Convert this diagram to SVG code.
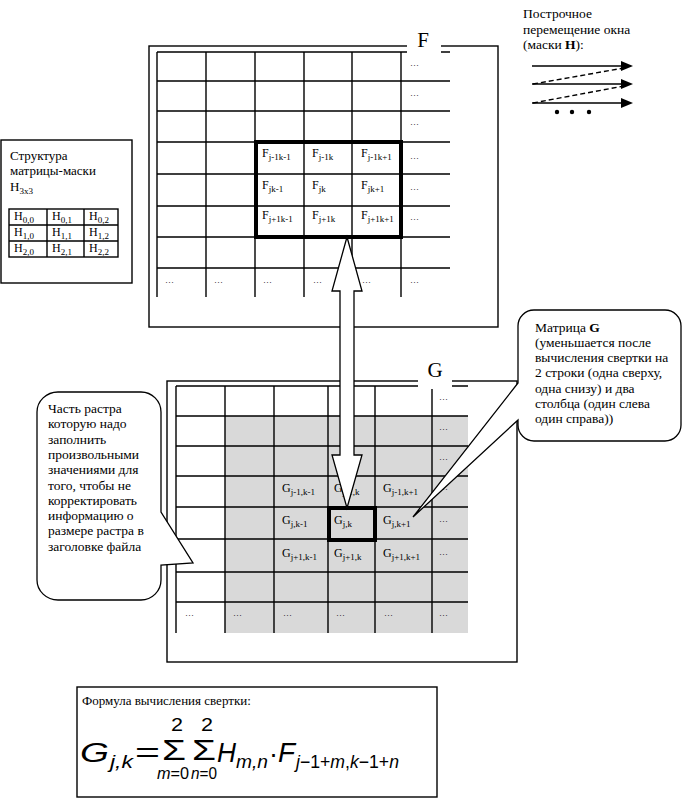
<svg xmlns="http://www.w3.org/2000/svg" width="688" height="801" viewBox="0 0 688 801">
<defs>
<style>
.t{font-family:"Liberation Serif","Times New Roman",serif;font-size:13.5px;fill:#000}
.h{font-family:"Liberation Serif","Times New Roman",serif;font-size:13px;fill:#000}
.c{font-family:"Liberation Serif","Times New Roman",serif;font-size:12px;fill:#000}
.s{font-size:9px}
.d{font-family:"Liberation Serif","Times New Roman",serif;font-size:9px;fill:#000}
.lbl{font-family:"Liberation Serif","Times New Roman",serif;font-size:21px;fill:#000;text-anchor:middle}
.ln{stroke:#000;stroke-width:1.4;fill:none}
.fr{fill:#fff;stroke:#000;stroke-width:1.4}
.tk{fill:none;stroke:#000;stroke-width:4}
.co{fill:#fff;stroke:#000;stroke-width:1.3}
.fm{font-family:"Liberation Sans",Arial,sans-serif;fill:#000}
.i{font-style:italic}
</style>
<marker id="ah" markerUnits="userSpaceOnUse" markerWidth="12" markerHeight="10" refX="0" refY="5" orient="auto">
<path d="M0,0 L12,5 L0,10 Z" fill="#000"/>
</marker>
</defs>
<rect width="688" height="801" fill="#fff"/>

<g id="matrixF">
<rect class="fr" x="149" y="46" width="349" height="281"/>
<path class="ln" d="M157,52V297M206,52V297M255,52V297M304,52V297M352,52V297M401,52V297M157,52H450M157,81H450M157,111H450M157,142H450M157,174H450M157,206H450M157,237H450M157,268H450"/>
<rect class="tk" x="256" y="142" width="145" height="95"/>
<rect x="407" y="36" width="34" height="19" fill="#fff"/>
<text class="lbl" x="423" y="47">F</text>
<text class="c" x="262" y="157">F<tspan class="s" dy="3">j-1k-1</tspan></text>
<text class="c" x="312" y="157">F<tspan class="s" dy="3">j-1k</tspan></text>
<text class="c" x="361" y="157">F<tspan class="s" dy="3">j-1k+1</tspan></text>
<text class="c" x="262" y="189">F<tspan class="s" dy="3">jk-1</tspan></text>
<text class="c" x="312" y="189">F<tspan class="s" dy="3">jk</tspan></text>
<text class="c" x="361" y="189">F<tspan class="s" dy="3">jk+1</tspan></text>
<text class="c" x="262" y="219">F<tspan class="s" dy="3">j+1k-1</tspan></text>
<text class="c" x="312" y="219">F<tspan class="s" dy="3">j+1k</tspan></text>
<text class="c" x="361" y="219">F<tspan class="s" dy="3">j+1k+1</tspan></text>
<text class="d" x="410" y="66">…</text>
<text class="d" x="410" y="96">…</text>
<text class="d" x="410" y="125">…</text>
<text class="d" x="410" y="159">…</text>
<text class="d" x="410" y="190">…</text>
<text class="d" x="410" y="220">…</text>
<text class="d" x="165" y="283">…</text>
<text class="d" x="214" y="283">…</text>
<text class="d" x="263" y="283">…</text>
<text class="d" x="313" y="283">…</text>
<text class="d" x="362" y="283">…</text>
<text class="d" x="410" y="283">…</text>
</g>

<g id="matrixG">
<rect class="fr" x="167" y="381" width="350" height="281"/>
<rect x="225" y="416" width="243" height="217" fill="#d9d9d9"/>
<path class="ln" d="M176,386V633M225,386V633M274,386V633M328,386V633M375,386V633M432,386V633M176,386H468M176,416H468M176,446H468M176,476H468M176,507H468M176,539H468M176,572H468M176,602H468"/>
<rect class="tk" x="329" y="508" width="46" height="32"/>
<rect x="418" y="364" width="34" height="25" fill="#fff"/>
<text class="lbl" x="435" y="377">G</text>
<text class="c" x="282" y="492">G<tspan class="s" dy="3">j-1,k-1</tspan></text>
<text class="c" x="334" y="492">G<tspan class="s" dy="3">j-1,k</tspan></text>
<text class="c" x="383" y="492">G<tspan class="s" dy="3">j-1,k+1</tspan></text>
<text class="c" x="282" y="524">G<tspan class="s" dy="3">j,k-1</tspan></text>
<text class="c" x="334" y="524">G<tspan class="s" dy="3">j,k</tspan></text>
<text class="c" x="383" y="524">G<tspan class="s" dy="3">j,k+1</tspan></text>
<text class="c" x="282" y="557">G<tspan class="s" dy="3">j+1,k-1</tspan></text>
<text class="c" x="334" y="557">G<tspan class="s" dy="3">j+1,k</tspan></text>
<text class="c" x="383" y="557">G<tspan class="s" dy="3">j+1,k+1</tspan></text>
<text class="d" x="439" y="400">…</text>
<text class="d" x="439" y="430">…</text>
<text class="d" x="439" y="460">…</text>
<text class="d" x="439" y="490">…</text>
<text class="d" x="439" y="522">…</text>
<text class="d" x="439" y="555">…</text>
<text class="d" x="185" y="616">…</text>
<text class="d" x="233" y="616">…</text>
<text class="d" x="283" y="616">…</text>
<text class="d" x="336" y="616">…</text>
<text class="d" x="384" y="616">…</text>
<text class="d" x="439" y="616">…</text>
</g>

<g id="maskH">
<rect class="fr" x="1" y="140" width="131" height="143"/>
<text class="h" x="10" y="160">Структура</text>
<text class="h" x="10" y="175">матрицы-маски</text>
<text class="h" x="10" y="191">H<tspan class="s" dy="3">3x3</tspan></text>
<rect class="fr" x="9" y="209" width="109" height="48"/>
<path class="ln" d="M9,225H118M9,241H118M47,209V257M84,209V257"/>
<text class="c" x="14" y="220">H<tspan class="s" dy="3">0,0</tspan></text>
<text class="c" x="52" y="220">H<tspan class="s" dy="3">0,1</tspan></text>
<text class="c" x="89" y="220">H<tspan class="s" dy="3">0,2</tspan></text>
<text class="c" x="14" y="236">H<tspan class="s" dy="3">1,0</tspan></text>
<text class="c" x="52" y="236">H<tspan class="s" dy="3">1,1</tspan></text>
<text class="c" x="89" y="236">H<tspan class="s" dy="3">1,2</tspan></text>
<text class="c" x="14" y="252">H<tspan class="s" dy="3">2,0</tspan></text>
<text class="c" x="52" y="252">H<tspan class="s" dy="3">2,1</tspan></text>
<text class="c" x="89" y="252">H<tspan class="s" dy="3">2,2</tspan></text>
</g>

<g id="legend">
<text class="t" x="523" y="18">Построчное</text>
<text class="t" x="523" y="33.5">перемещение окна</text>
<text class="t" x="523" y="49">(маски <tspan font-weight="bold">H</tspan>):</text>
<line class="ln" x1="532" y1="66" x2="621" y2="66" marker-end="url(#ah)"/>
<line class="ln" x1="532" y1="84" x2="621" y2="84" marker-end="url(#ah)"/>
<line class="ln" x1="532" y1="103" x2="621" y2="103" marker-end="url(#ah)"/>
<path class="ln" stroke-dasharray="5,3" d="M533,84L624,68M533,103L624,86"/>
<circle cx="557" cy="112" r="2.2"/>
<circle cx="572" cy="112" r="2.2"/>
<circle cx="589" cy="112" r="2.2"/>
</g>

<g id="calloutLeft">
<path class="co" d="M58,392H141A20,20 0 0 1 161,412V512L193,563L161,565V580A20,20 0 0 1 141,600H58A21,20 0 0 1 37,580V412A21,20 0 0 1 58,392Z"/>
<text class="t" x="48" y="413">Часть растра</text>
<text class="t" x="48" y="428">которую надо</text>
<text class="t" x="48" y="444">заполнить</text>
<text class="t" x="48" y="459">произвольными</text>
<text class="t" x="48" y="474">значениями для</text>
<text class="t" x="48" y="490">того, чтобы не</text>
<text class="t" x="48" y="505">корректировать</text>
<text class="t" x="48" y="520">информацию о</text>
<text class="t" x="48" y="535">размере растра в</text>
<text class="t" x="48" y="551">заголовке файла</text>
</g>

<g id="calloutRight">
<path class="co" d="M534,310H665A16,16 0 0 1 681,326V425A16,16 0 0 1 665,441H534A16,16 0 0 1 518,425V420L413,517L518,383V326A16,16 0 0 1 534,310Z"/>
<text class="t" x="535" y="332">Матрица <tspan font-weight="bold">G</tspan></text>
<text class="t" x="535" y="347">(уменьшается после</text>
<text class="t" x="535" y="362">вычисления свертки на</text>
<text class="t" x="535" y="377">2 строки (одна сверху,</text>
<text class="t" x="535" y="393">одна снизу) и два</text>
<text class="t" x="535" y="408">столбца (один слева</text>
<text class="t" x="535" y="423">один справа))</text>
</g>

<g id="connectors">
<path class="co" d="M347,237L362,291H354V455H362L347,508L332,455H340V291H332Z"/>
</g>

<g id="formula">
<rect class="fr" x="77" y="687" width="360" height="110"/>
<text class="h" x="82" y="705">Формула вычисления свертки:</text>
<text class="fm i" x="80" y="762" font-size="27" textLength="29" lengthAdjust="spacingAndGlyphs">G</text>
<text class="fm i" x="110" y="768" font-size="18" textLength="23" lengthAdjust="spacingAndGlyphs">j,k</text>
<text class="fm" x="135" y="762" font-size="27" textLength="25" lengthAdjust="spacingAndGlyphs">=</text>
<text class="fm" x="162" y="760" font-size="29" textLength="24" lengthAdjust="spacingAndGlyphs">Σ</text>
<text class="fm" x="171" y="731" font-size="19" textLength="12" lengthAdjust="spacingAndGlyphs">2</text>
<text class="fm" x="157" y="779" font-size="16" textLength="32" lengthAdjust="spacingAndGlyphs"><tspan class="i">m</tspan>=0</text>
<text class="fm" x="192" y="760" font-size="29" textLength="24" lengthAdjust="spacingAndGlyphs">Σ</text>
<text class="fm" x="201" y="731" font-size="19" textLength="12" lengthAdjust="spacingAndGlyphs">2</text>
<text class="fm" x="191" y="779" font-size="16" textLength="26" lengthAdjust="spacingAndGlyphs"><tspan class="i">n</tspan>=0</text>
<text class="fm i" x="217" y="762" font-size="27" textLength="19" lengthAdjust="spacingAndGlyphs">H</text>
<text class="fm i" x="236" y="768" font-size="18" textLength="32" lengthAdjust="spacingAndGlyphs">m,n</text>
<text class="fm" x="269" y="763" font-size="27" textLength="9" lengthAdjust="spacingAndGlyphs">·</text>
<text class="fm i" x="278" y="762" font-size="27" textLength="17" lengthAdjust="spacingAndGlyphs">F</text>
<text class="fm" x="296" y="768" font-size="18" textLength="103" lengthAdjust="spacingAndGlyphs"><tspan class="i">j</tspan>−1+<tspan class="i">m</tspan>,<tspan class="i">k</tspan>−1+<tspan class="i">n</tspan></text>
</g>
</svg>
